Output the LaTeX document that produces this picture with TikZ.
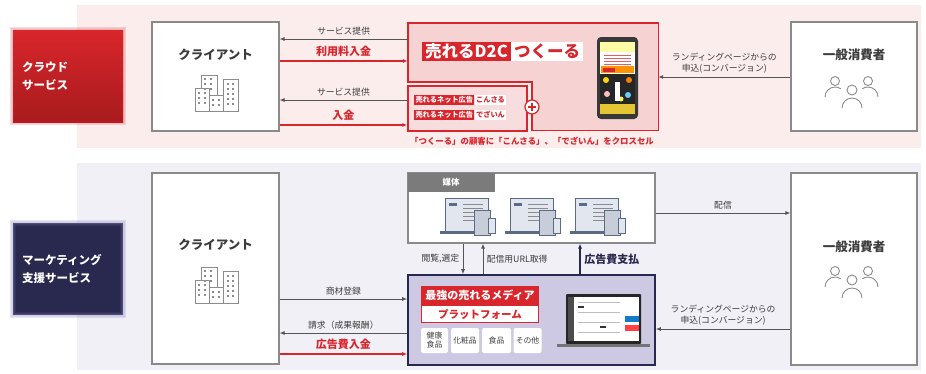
\documentclass[tikz,border=0pt]{standalone}
\usepackage{fontspec}
\setmainfont{Noto Sans CJK JP}
\usepackage{xcolor}
\usetikzlibrary{arrows.meta,positioning}

\definecolor{ured}{HTML}{D8262C}
\definecolor{udark}{HTML}{A81B1D}
\definecolor{pinkbg}{HTML}{FCEDED}
\definecolor{d2cfill}{HTML}{F6D2D3}
\definecolor{lavbg}{HTML}{F1F0F6}
\definecolor{platfill}{HTML}{CDC9E2}
\definecolor{navy}{HTML}{29284F}
\definecolor{glownavy}{HTML}{8E89C0}
\definecolor{txtgray}{HTML}{3C3C3C}
\definecolor{linegray}{HTML}{555555}
\definecolor{boxgray}{HTML}{8A8A8A}
\definecolor{icongray}{HTML}{8C8C8C}
\definecolor{mediagray}{HTML}{7B7B7B}
\definecolor{scrblue}{HTML}{5B6B86}
\definecolor{scrfill}{HTML}{E2E7EF}

% building icon, #1 = centre
\newcommand{\bldgicon}[1]{%
  \begin{scope}[shift={#1}, color=icongray, line width=0.7pt]
    \filldraw[fill=white] (-15,-18) rectangle (1,18);
    \filldraw[fill=white] (7,-14) rectangle (22,18);
    \filldraw[fill=white] (-21,-5) rectangle (-7,18);
    \filldraw[fill=white] (-7,2) rectangle (7,18);
    \foreach \wy in {-14,-9,-4}
      \foreach \wx in {-11,-5}
        \fill (\wx-0.9,\wy-0.9) rectangle ++(1.8,1.8);
    \foreach \wy in {-9,-4,1,6,11}
      \foreach \wx in {12,17}
        \fill (\wx-0.9,\wy-0.9) rectangle ++(1.8,1.8);
    \foreach \wy in {0,5,10}
      \foreach \wx in {-17,-11}
        \fill (\wx-0.9,\wy-0.9) rectangle ++(1.8,1.8);
    \foreach \wy in {7,12}
      \foreach \wx in {-3,3}
        \fill (\wx-0.9,\wy-0.9) rectangle ++(1.8,1.8);
  \end{scope}}

% three people, #1 = centre
\newcommand{\peopleicon}[1]{%
  \begin{scope}[shift={#1}, color=icongray, line width=0.9pt]
    \draw (-17,-11) circle[radius=4.5pt];
    \draw (16,-11) circle[radius=4.5pt];
    \draw (0,-2) circle[radius=5pt];
    \draw (-27,5) arc[start angle=180, end angle=55, radius=10pt];
    \draw (26,5) arc[start angle=0, end angle=125, radius=10pt];
    \draw (-10,16) arc[start angle=180, end angle=0, radius=10pt];
  \end{scope}}

% laptop with tablet and phone, #1 = top left of screen
\newcommand{\mediaicon}[1]{%
  \begin{scope}[shift={#1}]
    \filldraw[fill=scrfill, draw=scrblue, line width=1pt] (0,0) rectangle (43,33);
    \foreach \ly in {6,10,14,18,22}
      \draw[boxgray, line width=0.6pt] (18,\ly) -- (38,\ly);
    \fill[scrblue] (4,5) rectangle (12,8);
    \fill[scrblue] (-5,33) rectangle (45,35.5);
    \filldraw[fill=scrfill!80!scrblue, draw=scrblue, line width=0.9pt] (29,12) rectangle (45,37);
    \filldraw[fill=scrfill, draw=scrblue, line width=0.9pt] (43,20) rectangle (50,35);
  \end{scope}}

\begin{document}
\begin{tikzpicture}[x=1pt, y=-1pt, >={Latex[length=5pt,width=4pt]},
  box/.style={draw=boxgray, line width=1.1pt, fill=white, inner sep=0pt},
  arr/.style={->, draw=linegray, line width=0.9pt},
  redarr/.style={->, draw=ured, line width=1.8pt},
  navyarr/.style={->, draw=navy, line width=2.2pt},
  lbl/.style={font=\fontsize{8.8}{11}\selectfont, text=txtgray},
  redlbl/.style={font=\fontsize{11}{12}\selectfont\bfseries, text=ured},
  title/.style={font=\fontsize{12.5}{14}\selectfont\bfseries, text=txtgray},
  sidebox/.style={minimum width=110, minimum height=92, text width=92pt,
    align=left, inner sep=0pt, text=white,
    font=\fontsize{11.5}{18}\selectfont\bfseries},
  redtag/.style={fill=ured, text=white, inner sep=2pt},
  whitetag/.style={fill=white, text=ured, inner sep=2pt},
  catbox/.style={fill=white, rounded corners=2pt, minimum height=25,
    inner sep=0pt, align=center, text=txtgray,
    font=\fontsize{7.8}{9}\selectfont}
]
\useasboundingbox (0,0) rectangle (926,373);

% bands
\fill[pinkbg] (77,5) rectangle (921,148);
\fill[lavbg] (77,163) rectangle (921,370);

% ---------- cloud service ----------
\node[sidebox, top color=ured, bottom color=udark] (cloud) at (68,76) {クラウド\\サービス};
\foreach \g in {1,...,4}
  \draw[ured, opacity=0.09, line width=\g*1.6pt] (cloud.north west) rectangle (cloud.south east);

\node[box, minimum width=127, minimum height=109] (cli1) at (215.5,76.5) {};
\node[title] (cli1t) at (215.5,55) {クライアント};
\bldgicon{(216,93)}

\node[box, minimum width=126, minimum height=109] (con1) at (854,76.5) {};
\node[title] (con1t) at (854,55) {一般消費者};
\peopleicon{(852,92)}

% D2C frame
\node[inner sep=0pt, minimum width=250, minimum height=107] (d2c) at (533,76.5) {};
\coordinate (d2ck) at (532,82);
\filldraw[fill=d2cfill, draw=ured, line width=1.4pt]
  (d2c.north west) -- (d2c.north east) -- (d2c.south east)
  -- (d2c.south -| d2ck) -- (d2ck) -- (d2c.west |- d2ck) -- cycle;
\node[redtag, anchor=west, inner xsep=3pt, font=\fontsize{16.5}{17}\selectfont\bfseries] (d2cname) at (422,51.5) {売れるD2C};
\node[whitetag, right=0pt of d2cname, inner xsep=3pt, font=\fontsize{16.5}{17}\selectfont\bfseries] (tsukuru) {つくーる};

% phone mock-up
\fill[black!78, rounded corners=4pt] (597,37) rectangle (638,119);
\fill[white] (600,42) rectangle (635,114);
\fill[yellow!35] (600,42) rectangle (635,52);
\foreach \ly in {55,58,61,64}
  \draw[ured!75, line width=0.8pt] (604,\ly) -- (631,\ly);
\fill[orange!85!yellow] (601,66) rectangle (634,73);
\fill[ured] (603,67.5) rectangle (615,71.5);
\fill[black!85] (600,74) rectangle (635,104);
\fill[yellow!75!orange] (606,80) circle[radius=3pt];
\fill[orange] (629,80) circle[radius=3pt];
\fill[pink] (607,94) circle[radius=3pt];
\fill[cyan!60] (628,95) circle[radius=3pt];
\fill[yellow!70] (621,99) circle[radius=2.5pt];
\fill[white] (615,82) rectangle (620,101);
\fill[yellow!55!brown] (600,104) rectangle (635,114);

% ad services box
\node[draw=ured, fill=d2cfill!75, line width=1.4pt, inner sep=0pt, minimum width=119, minimum height=45] (ads) at (467.5,108.5) {};
\node[redtag, anchor=west, inner sep=1.3pt, font=\fontsize{7.2}{8}\selectfont\bfseries] (net1) at (414,100) {売れるネット広告};
\node[whitetag, right=0pt of net1, inner sep=1.3pt, font=\fontsize{7.2}{8}\selectfont\bfseries] (konsaru) {こんさる};
\node[redtag, anchor=west, inner sep=1.3pt, font=\fontsize{7.2}{8}\selectfont\bfseries] (net2) at (414,115) {売れるネット広告};
\node[whitetag, right=0pt of net2, inner sep=1.3pt, font=\fontsize{7.2}{8}\selectfont\bfseries] (dezain) {でざいん};
\node[circle, draw=ured, fill=white, line width=1.2pt, minimum size=14pt, inner sep=0pt] (plus) at (532,107) {};
\draw[ured, line width=1.2pt] ([yshift=4pt]plus.center) -- ([yshift=-4pt]plus.center);
\draw[ured, line width=1.2pt] ([xshift=-4pt]plus.center) -- ([xshift=4pt]plus.center);

\node[font=\fontsize{8.4}{9}\selectfont\bfseries, text=ured] (xsell) at (532,141) {「つくーる」の顧客に「こんさる」、「でざいん」をクロスセル};

% flows
\draw[arr] (d2c.west |- 0,39) -- (cli1.east |- 0,39) node[midway, above, lbl] {サービス提供};
\draw[redarr] (cli1.east |- 0,61) -- (d2c.west |- 0,61) node[midway, above, redlbl] {利用料入金};
\draw[arr] (ads.west |- 0,100) -- (cli1.east |- 0,100) node[midway, above, lbl] {サービス提供};
\draw[redarr] (cli1.east |- 0,125) -- (ads.west |- 0,125) node[midway, above, redlbl] {入金};
\draw[arr] (con1.west |- 0,77) -- (d2c.east |- 0,77) node[midway, above, lbl, align=center] {ランディングページからの\\申込(コンバージョン)};

% ---------- marketing support ----------
\node[sidebox, fill=navy] (mkt) at (68,269) {マーケティング\\支援サービス};
\foreach \g in {1,...,4}
  \draw[glownavy, opacity=0.12, line width=\g*1.6pt] (mkt.north west) rectangle (mkt.south east);

\node[box, minimum width=127, minimum height=191] (cli2) at (215.5,268.5) {};
\node[title] (cli2t) at (215.5,245) {クライアント};
\bldgicon{(216,285)}

\node[box, minimum width=126, minimum height=192] (con2) at (854,269) {};
\node[title] (con2t) at (854,247) {一般消費者};
\peopleicon{(852,282)}

% media
\node[box, minimum width=247, minimum height=70] (media) at (531.5,208) {};
\node[fill=mediagray, anchor=north west, minimum width=87, minimum height=19, inner sep=0pt, text=white, font=\fontsize{8.5}{9}\selectfont\bfseries] (mediatag) at (media.north west) {媒体};
\foreach \mx in {445,510,575} {\mediaicon{(\mx,198)}}

% platform
\node[draw=navy, fill=platfill, line width=1.6pt, inner sep=0pt, minimum width=247, minimum height=90] (plat) at (531.5,320) {};
\node[redtag, minimum width=118, minimum height=19, inner sep=0pt, font=\fontsize{11}{12}\selectfont\bfseries] (pfname) at (480,295.5) {最強の売れるメディア};
\node[whitetag, draw=ured, line width=1pt, below=0pt of pfname, minimum width=117, minimum height=17, inner sep=0pt, font=\fontsize{10.5}{11}\selectfont\bfseries] (pfname2) {プラットフォーム};
\foreach \cx/\cw/\ct [count=\i] in {434.5/27/{健康\\食品}, 465/28/化粧品, 496.5/29/食品, 527.5/28/その他}
  {\node[catbox, minimum width=\cw] (cat\i) at (\cx,340.5) {\ct};}

% dashboard laptop
\fill[black!85, rounded corners=1pt] (566,294) rectangle (641,344);
\fill[white] (574,297) rectangle (639,341);
\fill[black!70] (568,297) rectangle (574,341);
\foreach \ly in {302,312,322,332}
  \draw[black!25, line width=0.6pt] (578,\ly) -- (620,\ly);
\fill[black!80] (578,306) rectangle (584,308);
\fill[black!80] (600,326) rectangle (606,328);
\fill[cyan!60!blue] (625,316) rectangle (639,322);
\fill[red!75] (625,325) rectangle (639,331);
\fill[black!55] (557,344) rectangle (650,347);

% flows
\draw[arr] (cli2.east |- 0,299) -- (plat.west |- 0,299) node[midway, above, lbl] {商材登録};
\draw[arr] (plat.west |- 0,333) -- (cli2.east |- 0,333) node[midway, above, lbl] {請求（成果報酬）};
\draw[redarr] (cli2.east |- 0,354) -- (plat.west |- 0,354) node[midway, above, redlbl] {広告費入金};
\draw[arr] (media.south -| 463,0) -- (plat.north -| 463,0) node[midway, left, lbl] {閲覧,選定};
\draw[arr] (plat.north -| 483,0) -- (media.south -| 483,0) node[midway, right, lbl] {配信用URL取得};
\draw[navyarr] (plat.north -| 580,0) -- (media.south -| 580,0) node[midway, right, font=\fontsize{11}{12}\selectfont\bfseries, text=navy] {広告費支払};
\draw[arr] (media.east |- 0,213) -- (con2.west |- 0,213) node[midway, above, lbl] {配信};
\draw[arr] (con2.west |- 0,329) -- (plat.east |- 0,329) node[midway, above, lbl, align=center] {ランディングページからの\\申込(コンバージョン)};
\end{tikzpicture}
\end{document}
